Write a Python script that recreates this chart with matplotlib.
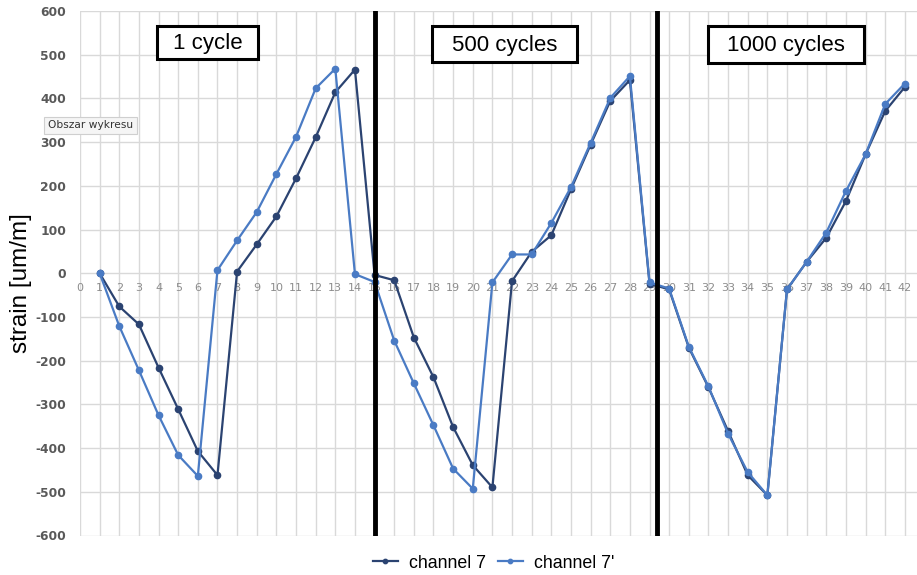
import matplotlib.pyplot as plt

plt.rcParams['axes.unicode_minus'] = False

# measurement index (x) and strain readings [um/m]
x = list(range(1, 43))

channel_7 = [0, -76, -117, -216, -311, -407, -462, 4, 66, 130, 217, 311, 414, 466,
             -4, -16, -147, -238, -352, -439, -490, -18, 49, 87, 192, 294, 394, 442,
             -24, -37, -170, -261, -361, -462, -508, -37, 26, 81, 165, 272, 371, 426]

channel_7p = [0, -121, -222, -325, -416, -464, 7, 75, 140, 227, 312, 423, 468, -2,
              -20, -154, -252, -348, -447, -493, -21, 43, 43, 115, 197, 298, 401, 451,
              -21, -35, -168, -259, -367, -455, -508, -37, 26, 93, 188, 272, 387, 434]

separators = [15, 29.4]
stage_labels = ['1 cycle', '500 cycles', '1000 cycles']
stage_pos = [(157, 26, 258, 59), (432, 26, 577, 62), (708, 26, 864, 63)]

dark = '#2b4371'
light = '#4a7bc4'

W, H = 917, 575
fig = plt.figure(figsize=(W / 100, H / 100), dpi=100)
fig.patch.set_facecolor('white')
ax = fig.add_axes([80 / W, 1 - 535.5 / H, 1 - 80 / W, (535.5 - 11) / H])

ax.set_xlim(0, 42.62)
ax.set_ylim(-600, 600)
ax.set_xticks(range(0, 43))
ax.set_yticks(range(-600, 601, 100))
ax.grid(True, color='#d9d9d9', linewidth=1.0)
ax.set_axisbelow(True)
for s in ax.spines.values():
    s.set_visible(False)

# x labels sit on the zero line like in Excel
ax.spines['bottom'].set_position(('data', 0))
ax.tick_params(axis='x', length=0, pad=7, labelsize=8, colors='#8c8c8c')
ax.tick_params(axis='y', length=0, pad=10, labelsize=8.8, colors='#595959')
for lab in ax.get_yticklabels():
    lab.set_fontweight('bold')

ax.plot(x, channel_7, color=dark, marker='o', markersize=4.5, linewidth=1.6,
        label='channel 7', zorder=3)
ax.plot(x, channel_7p, color=light, marker='o', markersize=4.5, linewidth=1.6,
        label="channel 7'", zorder=3)

for sx in separators:
    ax.axvline(sx, color='black', linewidth=3.5, zorder=4)

for lab, (x0, y0, x1, y1) in zip(stage_labels, stage_pos):
    fig.text((x0 + x1) / 2 / W, 1 - (y0 + y1 + 2) / 2 / H, lab, ha='center', va='center',
             fontsize=16, family='Liberation Sans', zorder=6)
    rect = plt.Rectangle((x0 / W, 1 - y1 / H), (x1 - x0) / W, (y1 - y0) / H,
                         transform=fig.transFigure, fill=True, facecolor='white',
                         edgecolor='black', linewidth=2.2, zorder=5)
    fig.patches.append(rect)

fig.text(21 / W, 1 - 283 / H, 'strain [um/m]', rotation=90, ha='center', va='center',
         fontsize=17.5, family='Liberation Sans')

# tooltip left over from the screenshot
fig.text(48 / W, 1 - 125.5 / H, 'Obszar wykresu', ha='left', va='center', fontsize=7.7,
         color='#333333', zorder=7,
         bbox=dict(boxstyle='square,pad=0.35', facecolor='#f5f5f5', edgecolor='#cfcfcf',
                   linewidth=0.8))

fig.legend(loc='center left', bbox_to_anchor=(373 / W, 1 - 563 / H), ncol=2,
           frameon=False, borderpad=0, borderaxespad=0,
           prop={'family': 'Liberation Sans', 'size': 12.8}, handlelength=1.4,
           handletextpad=0.6, columnspacing=0.7, markerscale=0.7)

fig.savefig('out.png', dpi=100)
